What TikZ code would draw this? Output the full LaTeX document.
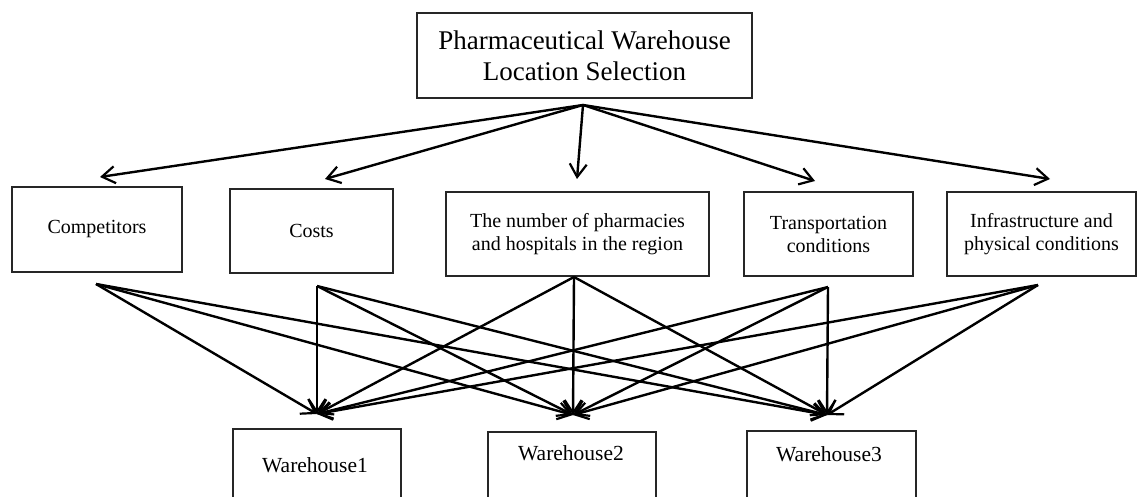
\documentclass[tikz,border=0pt]{standalone}
\usepackage{fontspec}
\setmainfont{Liberation Serif}
\usetikzlibrary{arrows.meta}
\begin{document}
\begin{tikzpicture}[x=1pt,y=-1pt,
  box/.style={draw=black!85, line width=1.5pt, inner sep=0pt, align=center},
  titletext/.style={font=\fontsize{27}{31}\selectfont},
  crittext/.style={font=\fontsize{20}{23}\selectfont},
  whtext/.style={font=\fontsize{21.5}{25}\selectfont, inner sep=0pt},
  arr/.style={line width=2.4pt, -{Straight Barb[length=13pt,width=17pt,line width=2.2pt]}}]
\useasboundingbox (0,0) rectangle (1138,497);
\clip (0,0) rectangle (1138,497);
\fill[white] (0,0) rectangle (1138,497);
% title
\node[box, titletext, minimum width=335, minimum height=85] (title) at (584.5,55.5)
  {Pharmaceutical Warehouse\\Location Selection};
% criteria
\node[box, crittext, minimum width=170, minimum height=85] (comp) at (97,229.5) {Competitors};
\node[box, crittext, minimum width=163, minimum height=84] (cost) at (311.5,231) {Costs};
\node[box, crittext, minimum width=263, minimum height=84] (num) at (577.5,234)
  {The number of pharmacies\\and hospitals in the region};
\node[box, crittext, minimum width=169, minimum height=84] (trans) at (828.5,234)
  {Transportation\\conditions};
\node[box, crittext, minimum width=189, minimum height=84] (infra) at (1041.5,234)
  {Infrastructure and\\physical conditions};
% warehouses (boxes run past the bottom edge)
\node[box, anchor=north west, minimum width=168, minimum height=110] (w1) at (232,428) {};
\node[box, anchor=north west, minimum width=168, minimum height=110] (w2) at (487,431) {};
\node[box, anchor=north west, minimum width=169, minimum height=110] (w3) at (746,430) {};
\node[whtext] (w1t) at (315,465) {Warehouse1};
\node[whtext] (w2t) at (571,453) {Warehouse2};
\node[whtext] (w3t) at (829,454) {Warehouse3};
% connector points
\coordinate (o) at (583,105);
\coordinate (a1) at (100,177);
\coordinate (a2) at (325,179);
\coordinate (a3) at (577,179);
\coordinate (a4) at (815,181);
\coordinate (a5) at (1050,179);
\coordinate (s1) at (96,284);
\coordinate (s2) at (317,286);
\coordinate (s3) at (574,277);
\coordinate (s4) at (828,287);
\coordinate (s5) at (1038,285);
\coordinate (t1) at (317,414);
\coordinate (t2) at (573,415);
\coordinate (t3) at (827,415);
% top arrows
\foreach \a in {a1,a2,a3,a4,a5} \draw[arr] (o) -- (\a);
% criteria to warehouses
\foreach \s in {s1,s2,s3,s4,s5}
  \foreach \t in {t1,t2,t3}
    \draw[arr] (\s) -- (\t);
\end{tikzpicture}
\end{document}
